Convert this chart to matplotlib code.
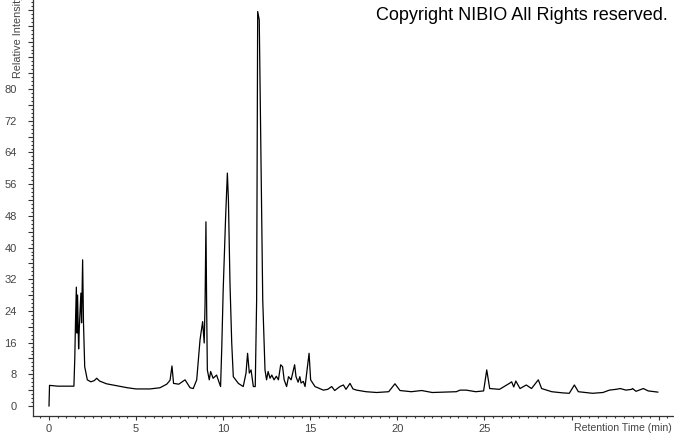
import matplotlib
matplotlib.use("Agg")
import matplotlib.pyplot as plt
import numpy as np

# retention time (min) and relative intensity
rt = [0.00, 0.03, 0.5, 1.0, 1.43, 1.48, 1.52, 1.57, 1.61, 1.64, 1.70, 1.74,
      1.83, 1.87, 1.93, 1.98, 2.05, 2.2, 2.4, 2.6, 2.74, 2.9, 3.3, 4.0, 4.5,
      5.0, 5.8, 6.37, 6.76, 6.95, 7.06, 7.15, 7.45, 7.81, 8.1, 8.28, 8.48,
      8.67, 8.82, 8.91, 8.96, 9.01, 9.05, 9.09, 9.2, 9.28, 9.42, 9.62, 9.85,
      9.92, 10.0, 10.14, 10.24, 10.3, 10.39, 10.49, 10.58, 10.87, 11.15,
      11.31, 11.4, 11.5, 11.6, 11.73, 11.84, 11.92, 11.98, 12.07, 12.15,
      12.27, 12.4, 12.49, 12.58, 12.69, 12.79, 12.92, 13.05, 13.17, 13.3,
      13.41, 13.5, 13.64, 13.75, 13.9, 14.1, 14.18, 14.3, 14.4, 14.47, 14.6,
      14.7, 14.93, 15.02, 15.27, 15.75, 16.0, 16.23, 16.4, 16.7, 16.9, 17.05,
      17.28, 17.45, 17.66, 18.2, 18.81, 19.5, 19.86, 20.15, 20.8, 21.39, 22.0,
      22.7, 23.38, 23.6, 23.95, 24.5, 24.95, 25.13, 25.3, 25.86, 26.43, 26.56,
      26.68, 26.8, 27.04, 27.4, 27.7, 28.09, 28.28, 28.86, 29.5, 29.87, 30.16,
      30.39, 31.2, 31.8, 32.17, 32.55, 32.8, 33.12, 33.45, 33.5, 33.7, 34.12,
      34.4, 34.95]
intensity = [0.0, 5.2, 5.0, 5.0, 5.0, 12.0, 21.0, 30.0, 18.4, 28.0, 14.4, 19.7,
             28.5, 21.0, 36.9, 21.0, 9.9, 6.6, 6.1, 6.4, 7.0, 6.3, 5.6, 5.0, 4.6,
             4.3, 4.3, 4.6, 5.5, 6.5, 10.1, 5.7, 5.5, 6.6, 4.6, 4.4, 6.6,
             16.7, 21.3, 15.9, 26.0, 46.5, 25.0, 9.1, 6.6, 8.7, 7.0, 7.8, 4.9,
             15.0, 29.3, 47.8, 58.8, 52.0, 31.0, 15.9, 7.4, 5.7, 4.9,
             8.3, 13.3, 8.3, 9.1, 4.9, 4.9, 26.8, 99.6, 97.5, 68.9,
             26.8, 9.1, 6.6, 8.7, 7.0, 7.8, 6.6, 7.5, 6.6, 10.4,
             9.9, 6.6, 4.9, 7.4, 6.6, 10.4, 7.4, 6.0, 7.4, 5.8, 6.2,
             4.9, 13.3, 6.6, 4.9, 4.0, 4.2, 4.9, 3.9, 4.9, 5.3, 4.2,
             5.7, 4.3, 4.0, 3.6, 3.4, 3.6, 5.6, 3.9, 3.6, 3.9, 3.4,
             3.5, 3.6, 4.0, 4.0, 3.6, 3.8, 9.1, 4.4, 4.2, 5.7, 6.1,
             4.8, 6.3, 4.4, 5.3, 4.4, 6.6, 4.4, 3.6, 3.3, 3.2, 5.3,
             3.6, 3.2, 3.4, 4.0, 4.2, 4.4, 4.0, 4.2, 4.4, 3.7, 4.4,
             3.8, 3.5]

x_labels = [0, 5, 10, 15, 20, 25]
y_labels = [0, 8, 16, 24, 32, 40, 48, 56, 64, 72, 80]

plt.rcParams['font.family'] = ['Liberation Sans', 'DejaVu Sans']

fig = plt.figure(figsize=(6.74, 4.34), dpi=100)
ax = fig.add_axes([0.0497, 0.0415, 0.9503, 0.9585])

ax.plot(rt, intensity, color='black', lw=0.9)

ax.set_xlim(-0.89, 35.88)
ax.set_ylim(-2.53, 102.5)

for side in ['top', 'right']:
    ax.spines[side].set_visible(False)
for side in ['left', 'bottom']:
    ax.spines[side].set_color('#333333')
    ax.spines[side].set_linewidth(0.9)

# x ticks: major every 5, minor every 0.5, labels only up to 25
xmaj = np.arange(0, 36, 5)
ax.set_xticks(xmaj)
ax.set_xticklabels([str(v) if v in x_labels else '' for v in xmaj])
ax.set_xticks(np.arange(-0.5, 35.6, 0.5), minor=True)

# y ticks: major every 4 (labelled every 8 up to 80), minor every 1
ymaj = np.arange(0, 101, 4)
ax.set_yticks(ymaj)
ax.set_yticklabels([str(v) if v in y_labels else '' for v in ymaj])
ax.set_yticks(np.arange(0, 103, 1), minor=True)

ax.tick_params(axis='x', which='major', length=2.9, width=0.8, pad=3.0,
               color='#333333', labelsize=8, labelcolor='#444444')
ax.tick_params(axis='x', which='minor', length=1.5, width=0.8, color='#333333')
ax.tick_params(axis='y', which='major', length=3.6, width=0.8, pad=8.3,
               color='#333333', labelsize=8, labelcolor='#444444')
ax.tick_params(axis='y', which='minor', length=1.5, width=0.8, color='#333333')

fig.text(0.027, 1 - 78 / 434, 'Relative Intensity', rotation=90,
         ha='center', va='bottom', fontsize=7.8, color='#444444')
fig.text(0.997, 1 - 428 / 434, 'Retention Time (min)', ha='right',
         va='center', fontsize=7.6, color='#444444')
fig.text(0.991, 1 - 20 / 434, 'Copyright NIBIO All Rights reserved.',
         ha='right', va='baseline', fontsize=13, color='black')

fig.savefig('out.png', dpi=100)
